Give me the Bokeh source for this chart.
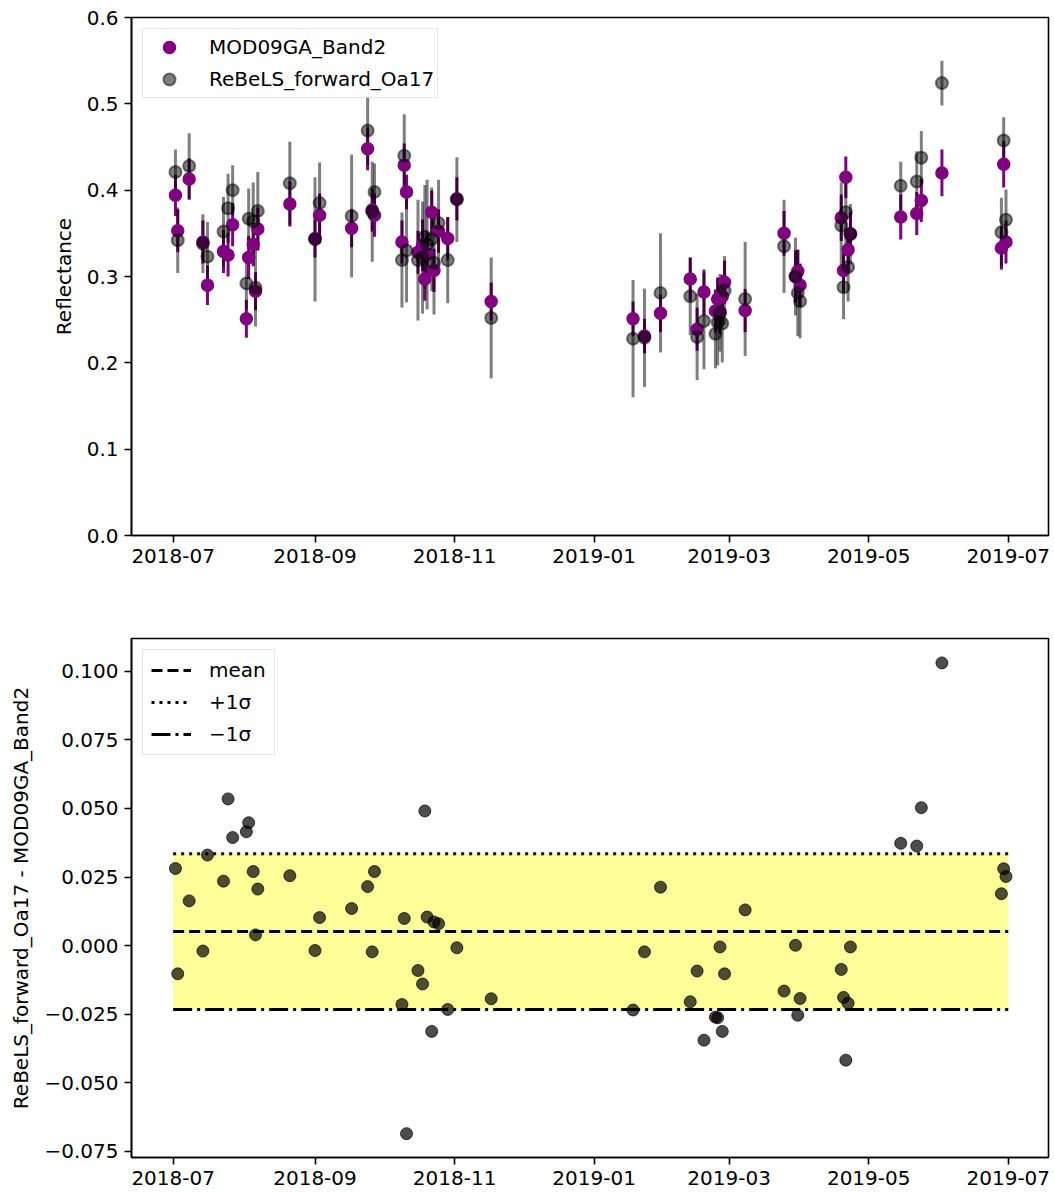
import pandas as pd
from bokeh.plotting import figure
from bokeh.layouts import column
from bokeh.models import (ColumnDataSource, Range1d, FixedTicker, PrintfTickFormatter,
                          CustomJSTickFormatter, DatetimeTickFormatter, Legend, LegendItem)
from bokeh.embed import file_html
from bokeh.resources import INLINE

# ---------------- data ----------------
dates = [
    "2018-07-02", "2018-07-03", "2018-07-08", "2018-07-14", "2018-07-16",
    "2018-07-23", "2018-07-25", "2018-07-27", "2018-08-02", "2018-08-03",
    "2018-08-05", "2018-08-06", "2018-08-07", "2018-08-21", "2018-09-01",
    "2018-09-03", "2018-09-17", "2018-09-24", "2018-09-26", "2018-09-27",
    "2018-10-09", "2018-10-10", "2018-10-11", "2018-10-16", "2018-10-18",
    "2018-10-19", "2018-10-20", "2018-10-22", "2018-10-23", "2018-10-25",
    "2018-10-29", "2018-11-02", "2018-11-17", "2019-01-18", "2019-01-23",
    "2019-01-30", "2019-02-12", "2019-02-15", "2019-02-18", "2019-02-23",
    "2019-02-24", "2019-02-25", "2019-02-26", "2019-02-27", "2019-03-08",
    "2019-03-25", "2019-03-30", "2019-03-31", "2019-04-01", "2019-04-19",
    "2019-04-20", "2019-04-21", "2019-04-22", "2019-04-23", "2019-05-15",
    "2019-05-22", "2019-05-24", "2019-06-02", "2019-06-28", "2019-06-29",
    "2019-06-30",
]

mod09ga_band2 = [
    0.394, 0.353, 0.413, 0.340, 0.290, 0.329, 0.325, 0.360, 0.251, 0.322,
    0.337, 0.283, 0.355, 0.384, 0.344, 0.371, 0.356, 0.448, 0.377, 0.371,
    0.340, 0.429, 0.398, 0.328, 0.336, 0.297, 0.326, 0.3745, 0.307, 0.3525,
    0.344, 0.390, 0.271, 0.251, 0.231, 0.2575, 0.297, 0.239, 0.282, 0.260,
    0.274, 0.2587, 0.277, 0.2934, 0.2606, 0.350, 0.300, 0.306, 0.290, 0.368,
    0.307, 0.415, 0.331, 0.3495, 0.369, 0.373, 0.388, 0.420, 0.333, 0.430,
    0.340,
]
mod09ga_band2_err = [
    0.024, 0.025, 0.024, 0.025, 0.023, 0.025, 0.025, 0.025, 0.022, 0.025,
    0.025, 0.022, 0.025, 0.026, 0.022, 0.025, 0.022, 0.025, 0.025, 0.025,
    0.025, 0.025, 0.020, 0.025, 0.030, 0.025, 0.025, 0.025, 0.025, 0.025,
    0.025, 0.025, 0.022, 0.020, 0.020, 0.022, 0.025, 0.025, 0.026, 0.025,
    0.025, 0.025, 0.025, 0.025, 0.025, 0.026, 0.030, 0.025, 0.025, 0.027,
    0.025, 0.024, 0.025, 0.025, 0.026, 0.025, 0.025, 0.027, 0.025, 0.027,
    0.025,
]
rebels_oa17 = [
    0.421, 0.342, 0.428, 0.338, 0.323, 0.352, 0.379, 0.400, 0.292, 0.367,
    0.364, 0.287, 0.376, 0.408, 0.343, 0.385, 0.370, 0.469, 0.375, 0.398,
    0.319, 0.440, 0.330, 0.319, 0.322, 0.346, 0.337, 0.343, 0.316, 0.362,
    0.319, 0.389, 0.252, 0.228, 0.229, 0.281, 0.277, 0.230, 0.2485, 0.2336,
    0.247, 0.258, 0.2455, 0.2838, 0.274, 0.335, 0.300, 0.281, 0.2714, 0.359,
    0.2876, 0.3745, 0.311, 0.349, 0.405, 0.410, 0.4375, 0.524, 0.3513, 0.4575,
    0.3657,
]
rebels_oa17_err = [
    0.026, 0.038, 0.038, 0.034, 0.040, 0.040, 0.040, 0.029, 0.030, 0.035,
    0.045, 0.045, 0.045, 0.048, 0.072, 0.047, 0.071, 0.040, 0.058, 0.033,
    0.055, 0.048, 0.060, 0.070, 0.065, 0.060, 0.075, 0.060, 0.060, 0.050,
    0.050, 0.049, 0.070, 0.068, 0.057, 0.069, 0.045, 0.050, 0.056, 0.040,
    0.050, 0.045, 0.045, 0.040, 0.066, 0.054, 0.045, 0.050, 0.043, 0.050,
    0.037, 0.040, 0.040, 0.035, 0.028, 0.035, 0.031, 0.026, 0.040, 0.027,
    0.035,
]
difference = [
    0.0281, -0.0103, 0.0163, -0.0020, 0.0330, 0.0235, 0.0535, 0.0394, 0.0415, 0.0448,
    0.0270, 0.0039, 0.0206, 0.0255, -0.0018, 0.0102, 0.0135, 0.0215, -0.0023, 0.0270,
    -0.0215, 0.0099, -0.0686, -0.0091, -0.0140, 0.0491, 0.0104, -0.0313, 0.0086, 0.0080,
    -0.0233, -0.0008, -0.0194, -0.0235, -0.0023, 0.0213, -0.0205, -0.0093, -0.0345, -0.0261,
    -0.0263, -0.0005, -0.0313, -0.0103, 0.0130, -0.0166, 0.0001, -0.0254, -0.0193, -0.0087,
    -0.0189, -0.0418, -0.0210, -0.0005, 0.0373, 0.0363, 0.0503, 0.1031, 0.0189, 0.0280,
    0.0252,
]
diff_mean = 0.0051
diff_sigma = 0.0284
band_dates = ["2018-07-01", "2019-07-01"]

x_tick_dates = ["2018-07-01", "2018-09-01", "2018-11-01", "2019-01-01",
                "2019-03-01", "2019-05-01", "2019-07-01"]
y_ticks_top = [0.0, 0.1, 0.2, 0.3, 0.4, 0.5, 0.6]
y_ticks_bottom = [-0.075, -0.050, -0.025, 0.000, 0.025, 0.050, 0.075, 0.100]
x_limits = ["2018-06-12 19:00", "2019-07-18 14:00"]
y_limits_top = [0.0, 0.6]
y_limits_bottom = [-0.0773, 0.1120]

# ---------------- styling ----------------
FONT = "DejaVu Sans"
FS = "20px"
PURPLE = "#800080"

dt = pd.to_datetime(dates)
src = ColumnDataSource(dict(
    date=dt,
    mod=mod09ga_band2,
    mod_lo=[v - e for v, e in zip(mod09ga_band2, mod09ga_band2_err)],
    mod_hi=[v + e for v, e in zip(mod09ga_band2, mod09ga_band2_err)],
    reb=rebels_oa17,
    reb_lo=[v - e for v, e in zip(rebels_oa17, rebels_oa17_err)],
    reb_hi=[v + e for v, e in zip(rebels_oa17, rebels_oa17_err)],
    diff=difference,
))

bd = pd.to_datetime(band_dates)
band_src = ColumnDataSource(dict(
    x=bd,
    mean=[diff_mean] * len(bd),
    upper=[diff_mean + diff_sigma] * len(bd),
    lower=[diff_mean - diff_sigma] * len(bd),
))

x_range = Range1d(start=pd.Timestamp(x_limits[0]), end=pd.Timestamp(x_limits[1]))
tick_ms = [pd.Timestamp(d).value // 10**6 for d in x_tick_dates]
fmt = "%Y-%m"


def style(p):
    p.xgrid.visible = False
    p.ygrid.visible = False
    p.outline_line_color = "black"
    p.outline_line_width = 1.6
    for ax in (p.xaxis[0], p.yaxis[0]):
        ax.axis_line_color = "black"
        ax.axis_line_width = 1.6
        ax.major_tick_line_color = "black"
        ax.major_tick_line_width = 1.6
        ax.major_tick_in = 0
        ax.major_tick_out = 7
        ax.minor_tick_line_color = None
        ax.major_label_text_font = FONT
        ax.major_label_text_font_size = FS
        ax.major_label_text_color = "black"
        ax.major_label_standoff = 6
        ax.axis_label_text_font = FONT
        ax.axis_label_text_font_size = FS
        ax.axis_label_text_font_style = "normal"
        ax.axis_label_text_color = "black"
        ax.axis_label_standoff = 8
    p.xaxis[0].ticker = FixedTicker(ticks=tick_ms)
    p.xaxis[0].formatter = DatetimeTickFormatter(
        years=fmt, months=fmt, days=fmt, hours=fmt, minutes=fmt, seconds=fmt,
        milliseconds=fmt, microseconds=fmt, hourmin=fmt, minsec=fmt)


def style_legend(lg):
    lg.label_text_font = FONT
    lg.label_text_font_size = FS
    lg.label_text_color = "black"
    lg.margin = 11
    lg.border_line_color = "#cccccc"
    lg.border_line_width = 1.5
    lg.background_fill_color = "white"
    lg.background_fill_alpha = 0.8


# ---------------- top panel ----------------
p1 = figure(x_axis_type="datetime", x_range=x_range,
            y_range=Range1d(*y_limits_top),
            frame_width=917, frame_height=518,
            min_border_left=131, min_border_right=4,
            min_border_top=17, min_border_bottom=46,
            output_backend="svg", toolbar_location=None)
style(p1)
p1.yaxis[0].ticker = FixedTicker(ticks=y_ticks_top)
p1.yaxis[0].formatter = PrintfTickFormatter(format="%.1f")
p1.yaxis[0].axis_label = "Reflectance"

p1.segment(x0="date", y0="mod_lo", x1="date", y1="mod_hi", source=src,
           line_color=PURPLE, line_width=3)
p1.segment(x0="date", y0="reb_lo", x1="date", y1="reb_hi", source=src,
           line_color="black", line_alpha=0.5, line_width=3)
r_mod = p1.scatter(x="date", y="mod", source=src, size=12, marker="circle",
                   fill_color=PURPLE, line_color=PURPLE, line_width=1.5)
r_reb = p1.scatter(x="date", y="reb", source=src, size=12, marker="circle",
                   fill_color="black", fill_alpha=0.5,
                   line_color="black", line_alpha=0.5, line_width=2)

lg1 = Legend(items=[LegendItem(label="MOD09GA_Band2", renderers=[r_mod]),
                    LegendItem(label="ReBeLS_forward_Oa17", renderers=[r_reb])],
             location="top_left")
style_legend(lg1)
lg1.glyph_width = 46
lg1.glyph_height = 30
lg1.label_standoff = 17
lg1.spacing = 2
lg1.padding = 3
p1.add_layout(lg1)

# ---------------- bottom panel ----------------
p2 = figure(x_axis_type="datetime", x_range=x_range,
            y_range=Range1d(*y_limits_bottom),
            frame_width=917, frame_height=519,
            min_border_left=131, min_border_right=4,
            min_border_top=57, min_border_bottom=33,
            output_backend="svg", toolbar_location=None)
style(p2)
p2.yaxis[0].ticker = FixedTicker(ticks=y_ticks_bottom)
p2.yaxis[0].formatter = CustomJSTickFormatter(
    code="return tick.toFixed(3).replace('-', '\u2212');")
p2.yaxis[0].axis_label = "ReBeLS_forward_Oa17 - MOD09GA_Band2"

p2.varea(x="x", y1="lower", y2="upper", source=band_src,
         fill_color="yellow", fill_alpha=0.4)
p2.scatter(x="date", y="diff", source=src, size=12, marker="circle",
           fill_color="black", fill_alpha=0.7,
           line_color="black", line_alpha=0.7, line_width=1)
r_mean = p2.line(x="x", y="mean", source=band_src, line_color="black",
                 line_width=3, line_dash="11 5")
r_up = p2.line(x="x", y="upper", source=band_src, line_color="black",
               line_width=3, line_dash="3 5")
r_lo = p2.line(x="x", y="lower", source=band_src, line_color="black",
               line_width=3, line_dash="19 5 3 5")

lg2 = Legend(items=[LegendItem(label="mean", renderers=[r_mean]),
                    LegendItem(label="+1\u03c3", renderers=[r_up]),
                    LegendItem(label="\u22121\u03c3", renderers=[r_lo])],
             location="top_left")
style_legend(lg2)
lg2.glyph_width = 40
lg2.glyph_height = 22
lg2.label_standoff = 18
lg2.spacing = 8
lg2.padding = 8
p2.add_layout(lg2)

layout = column(p1, p2)
with open("out.html", "w", encoding="utf-8") as f:
    f.write(file_html(layout, INLINE))
